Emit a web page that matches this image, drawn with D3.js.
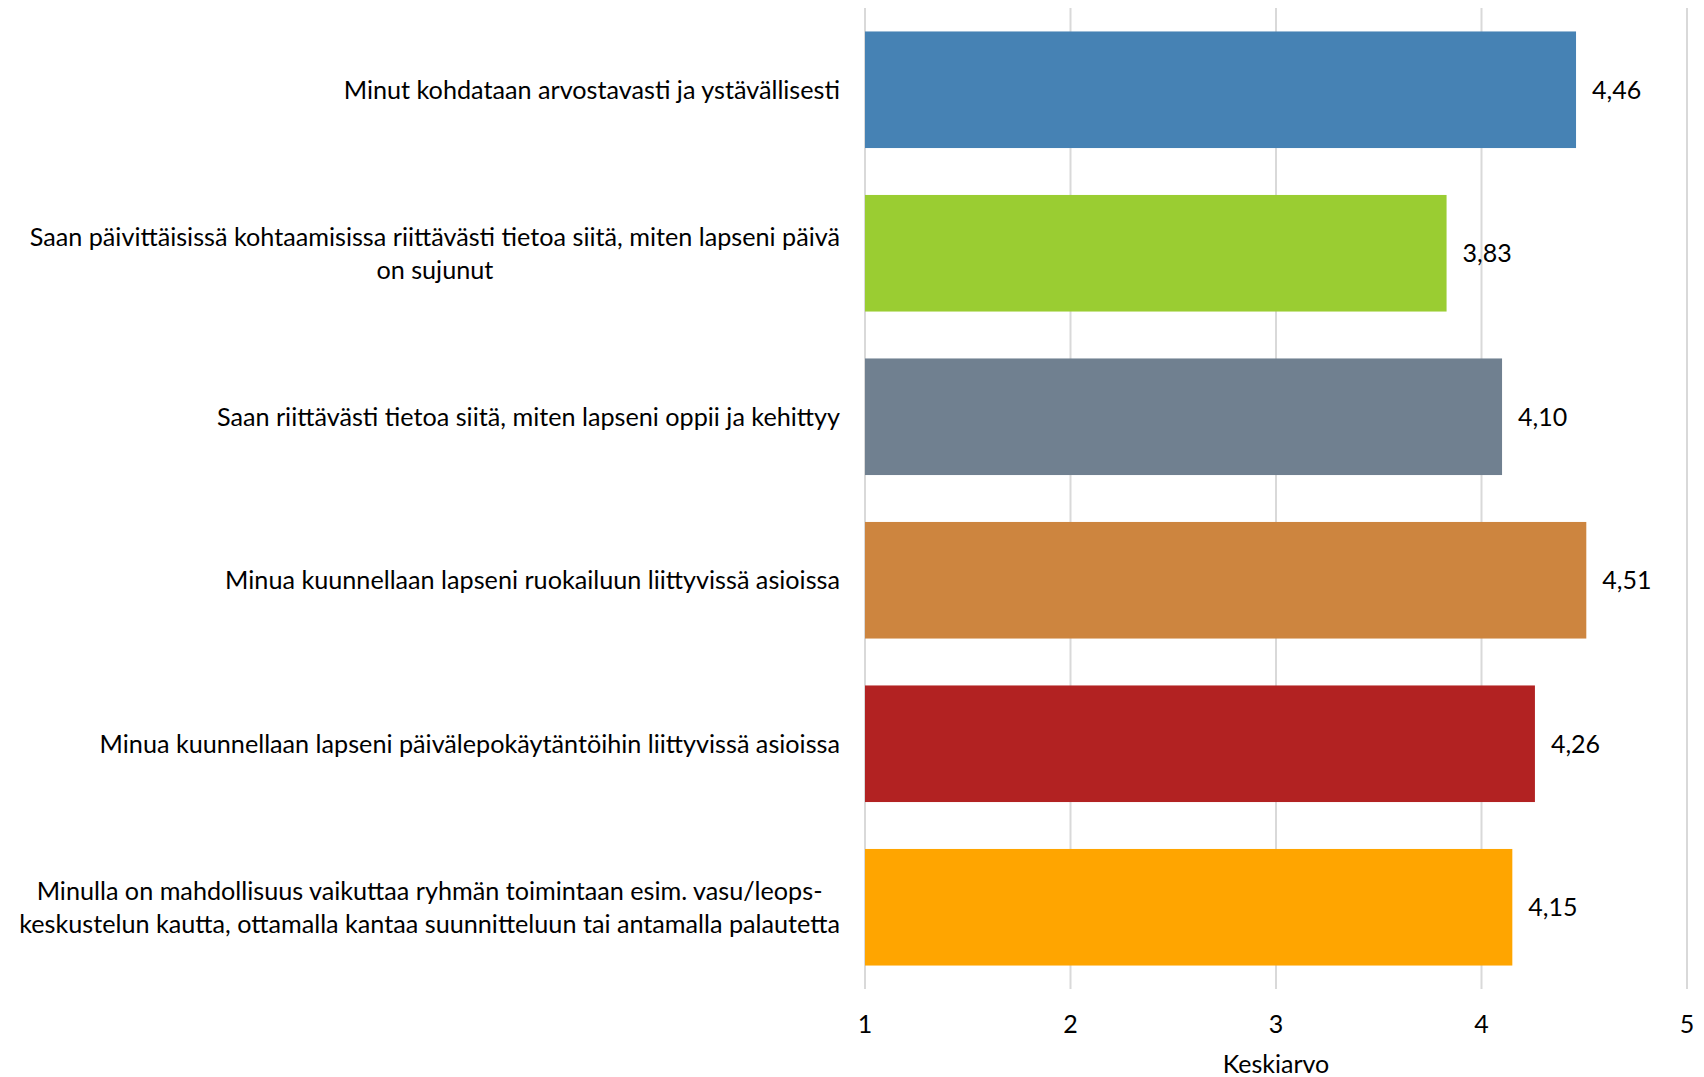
<!DOCTYPE html>
<html lang="fi">
<head>
<meta charset="UTF-8">
<title>Keskiarvo</title>
<script src="https://cdn.jsdelivr.net/npm/d3@7"></script>
<style>
  html, body { margin: 0; padding: 0; background: #fff; }
  svg text { font-family: Lato, "Open Sans", sans-serif; fill: #000; }
</style>
</head>
<body>
<svg id="chart" width="1704" height="1077"></svg>
<script>
// categories (line breaks as in the original chart)
const categories = [
  "Minut kohdataan arvostavasti ja ystävällisesti",
  "Saan päivittäisissä kohtaamisissa riittävästi tietoa siitä, miten lapseni päivä\non sujunut",
  "Saan riittävästi tietoa siitä, miten lapseni oppii ja kehittyy",
  "Minua kuunnellaan lapseni ruokailuun liittyvissä asioissa",
  "Minua kuunnellaan lapseni päivälepokäytäntöihin liittyvissä asioissa",
  "Minulla on mahdollisuus vaikuttaa ryhmän toimintaan esim. vasu/leops-\nkeskustelun kautta, ottamalla kantaa suunnitteluun tai antamalla palautetta"
];
const values = [4.46, 3.83, 4.10, 4.51, 4.26, 4.15];
const colors = ["#4682B4", "#9ACD32", "#708090", "#CD853F", "#B22222", "#FFA500"];
const xTicks = [1, 2, 3, 4, 5];
const xTitle = "Keskiarvo";

const plot = { left: 865, right: 1687, top: 8, bottom: 989 };
const svg = d3.select("#chart");

const x = d3.scaleLinear().domain([1, 5]).range([plot.left, plot.right]);
const y = d3.scaleBand().domain(d3.range(categories.length))
  .range([plot.top, plot.bottom]).paddingInner(0.287).paddingOuter(0.1435);

// gridlines
svg.append("g").selectAll("line").data(xTicks).join("line")
  .attr("x1", d => x(d)).attr("x2", d => x(d))
  .attr("y1", plot.top).attr("y2", plot.bottom)
  .attr("stroke", "#d9d9d9").attr("stroke-width", 2);

// bars
svg.append("g").selectAll("rect").data(values).join("rect")
  .attr("x", x(1))
  .attr("y", (d, i) => y(i))
  .attr("width", d => x(d) - x(1))
  .attr("height", y.bandwidth())
  .attr("fill", (d, i) => colors[i]);

// value labels
const fmt = v => d3.format(".2f")(v).replace(".", ",");
svg.append("g").selectAll("text").data(values).join("text")
  .attr("x", d => x(d) + 16)
  .attr("y", (d, i) => y(i) + y.bandwidth() / 2)
  .attr("dy", "0.35em")
  .style("font-size", "25px")
  .text(d => fmt(d));

// category labels, block right edge at 840, lines centred in block
const lineH = 33;
svg.append("g").selectAll("text").data(categories).join("text")
  .attr("text-anchor", "middle")
  .style("font-size", "25.2px")
  .each(function(d, i) {
    const lines = d.split("\n");
    const t = d3.select(this);
    const cy = y(i) + y.bandwidth() / 2;
    const y0 = cy - (lines.length - 1) * lineH / 2;
    lines.forEach((ln, k) => {
      t.append("tspan").attr("y", y0 + k * lineH).attr("dy", "0.35em").text(ln);
    });
    const wmax = d3.max(t.selectAll("tspan").nodes(), s => s.getComputedTextLength());
    t.selectAll("tspan").attr("x", 840 - wmax / 2);
  });

// x tick labels
svg.append("g").selectAll("text").data(xTicks).join("text")
  .attr("x", d => x(d)).attr("y", 1024).attr("dy", "0.35em")
  .attr("text-anchor", "middle")
  .style("font-size", "25px")
  .text(d => d);

// axis title
svg.append("text")
  .attr("x", (plot.left + plot.right) / 2).attr("y", 1064).attr("dy", "0.35em")
  .attr("text-anchor", "middle")
  .style("font-size", "25px")
  .text(xTitle);
</script>
</body>
</html>
